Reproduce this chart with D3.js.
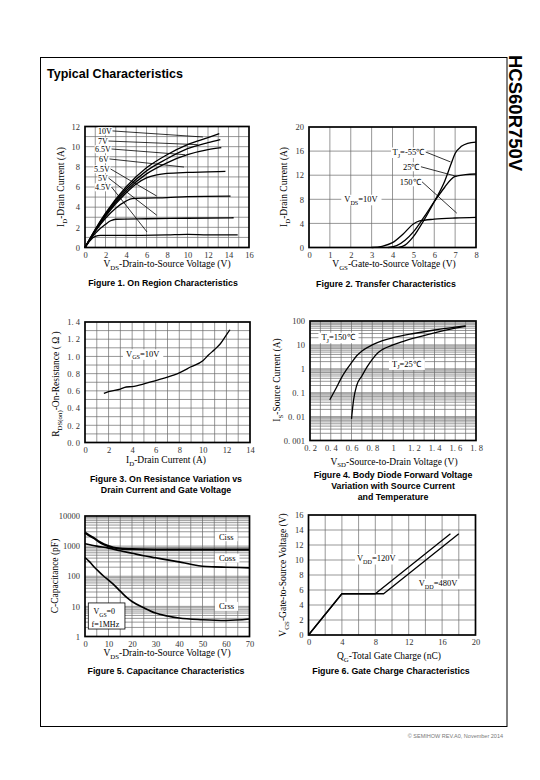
<!DOCTYPE html>
<html><head><meta charset="utf-8">
<script src="https://cdn.jsdelivr.net/npm/d3@7"></script>
<style>body{margin:0;background:#fff}</style>
</head><body>
<svg id="c" width="540" height="780"></svg>
<script>
// ---------------- DATA ----------------
// Figure 1: On region characteristics (VDS, ID)
const f1_xTicks = [0,2,4,6,8,10,12,14,16];
const f1_yTicks = [0,2,4,6,8,10,12];
const f1_10V  = [[0,0],[1,1.8],[2,3.4],[4,6.0],[6,7.9],[8,9.2],[10,10.2],[12,10.9],[13.1,11.3]];
const f1_7V   = [[0,0],[1,1.75],[2,3.3],[4,5.8],[6,7.6],[8,8.8],[10,9.8],[12,10.4],[13.2,10.7]];
const f1_6p5V = [[0,0],[1,1.7],[2,3.2],[4,5.6],[6,7.3],[8,8.4],[10,9.2],[12,9.7],[13.3,9.9]];
const f1_6V   = [[0,0],[1,1.65],[2,3.1],[4,5.4],[5,6.3],[6,6.9],[7,7.2],[8,7.35],[10,7.45],[12,7.5],[13.7,7.55]];
const f1_5p5V = [[0,0],[1,1.6],[2,2.9],[3,3.9],[4,4.6],[4.6,4.85],[6,4.9],[8,4.95],[10,5.05],[14.2,5.1]];
const f1_5V   = [[0,0],[1,1.4],[2,2.3],[2.5,2.65],[3,2.8],[6,2.85],[10,2.9],[14.5,2.95]];
const f1_4p5V = [[0,0],[0.5,0.7],[1,1.1],[1.5,1.2],[3,1.2],[8,1.25],[10,1.3],[12,1.25],[14.9,1.25]];
const f1_labels = ["10V","7V","6.5V","6V","5.5V","5V","4.5V"];

// Figure 2: Transfer characteristics (VGS, ID)
const f2_xTicks = [0,1,2,3,4,5,6,7,8];
const f2_yTicks = [0,4,8,12,16,20];
const f2_m55 = [[4.3,0],[4.6,0.4],[5,1.8],[5.5,4.5],[6,7.6],[6.5,11.0],[6.8,13.8],[7,15.6],[7.3,16.8],[7.6,17.3],[8,17.5]];
const f2_25  = [[3.8,0],[4.2,0.3],[4.6,1.2],[5,2.6],[5.5,5.0],[6,7.6],[6.5,10.0],[6.8,11.3],[7,11.8],[7.5,12.1],[8,12.2]];
const f2_150 = [[3.0,0],[3.5,0.2],[4,0.8],[4.5,2.2],[5,3.9],[5.3,4.4],[6,4.7],[7,4.9],[8,5.0]];

// Figure 3: On resistance vs drain current (ID, RDS(on))
const f3_xTicks = [0,2,4,6,8,10,12,14];
const f3_yTicks = [0,0.2,0.4,0.6,0.8,1.0,1.2,1.4];
const f3_yLabels = ["0. 0","0. 2","0. 4","0. 6","0. 8","1. 0","1. 2","1. 4"];
const f3_rds = [[1.6,0.57],[2,0.59],[3,0.62],[3.5,0.645],[4,0.65],[5,0.68],[6,0.72],[7,0.76],[8,0.81],[9,0.88],[10,0.95],[10.5,1.02],[11,1.08],[11.5,1.15],[12,1.25],[12.3,1.31]];

// Figure 4: Body diode forward voltage (VSD, IS)
const f4_xTicks = [0.2,0.4,0.6,0.8,1.0,1.2,1.4,1.6,1.8];
const f4_xLabels = ["0. 2","0. 4","0. 6","0. 8","1","1. 2","1. 4","1. 6","1. 8"];
const f4_yTicks = [0.001,0.01,0.1,1,10,100];
const f4_yLabels = ["0. 001","0. 01","0. 1","1","10","100"];
const f4_150 = [[0.39,0.05],[0.45,0.15],[0.5,0.4],[0.55,0.9],[0.6,1.8],[0.65,3.5],[0.7,5.5],[0.8,10],[0.9,15],[1.0,20],[1.2,30],[1.4,42],[1.6,55],[1.7,63]];
const f4_25  = [[0.6,0.008],[0.62,0.05],[0.65,0.2],[0.7,0.5],[0.75,1.2],[0.8,2.5],[0.85,4.5],[0.9,6.5],[1.0,10],[1.1,14],[1.2,19],[1.4,32],[1.6,50],[1.7,60]];

// Figure 5: Capacitance (VDS, C)
const f5_xTicks = [0,10,20,30,40,50,60,70];
const f5_yTicks = [1,10,100,1000,10000];
const f5_ciss = [[0,2800],[2,2200],[4,1800],[6,1400],[8,1150],[10,1000],[12,900],[15,830],[20,790],[30,770],[50,760],[70,760]];
const f5_coss = [[0,1200],[5,1000],[10,860],[15,700],[20,580],[25,480],[30,410],[35,350],[40,300],[45,250],[50,215],[55,205],[60,200],[70,190]];
const f5_crss = [[0,420],[2,300],[4,200],[6,140],[8,100],[10,75],[12,55],[15,32],[18,19],[20,14.5],[25,9],[30,6],[35,4.8],[40,4.1],[50,3.6],[60,3.4],[70,3.8]];

// Figure 6: Gate charge (QG, VGS)
const f6_xTicks = [0,4,8,12,16,20];
const f6_yTicks = [0,2,4,6,8,10,12,14,16];
const f6_120 = [[0,0],[4,5.5],[8,5.5],[17,13.5]];
const f6_480 = [[0,0],[4,5.5],[9,5.5],[18,13.5]];

// ---------------- DRAWING ----------------
const SERIF = "'Liberation Serif','Times New Roman',serif";
const SANS = "'Liberation Sans',Arial,sans-serif";
const svg = d3.select('#c');

function rich(t, str, size) {
  const parts = str.split(/(_\{[^}]*\})/);
  let sub = false;
  parts.forEach(p => {
    if (!p) return;
    if (p.startsWith('_{')) {
      t.append('tspan').attr('font-size', size*0.72).attr('dy', size*0.3).text(p.slice(2,-1));
      sub = true;
    } else {
      const s = t.append('tspan').text(p);
      if (sub) { s.attr('dy', -size*0.3); sub = false; }
    }
  });
  return t;
}

function panel(o) {
  const g = svg.append('g');
  const sx = d3.scaleLinear().domain(o.xDom).range([o.L, o.R]);
  const sy = (o.yLog ? d3.scaleLog() : d3.scaleLinear()).domain(o.yDom).range([o.B, o.T]);
  g.selectAll(null).data(o.xGrid).join('line')
    .attr('x1', d => sx(d)).attr('x2', d => sx(d)).attr('y1', o.T).attr('y2', o.B)
    .attr('stroke', '#6a6a6a').attr('stroke-width', 0.7);
  g.selectAll(null).data(o.yGrid).join('line')
    .attr('y1', d => sy(d)).attr('y2', d => sy(d)).attr('x1', o.L).attr('x2', o.R)
    .attr('stroke', '#6a6a6a').attr('stroke-width', 0.7);
  const xa = d3.axisBottom(sx).tickValues(o.xTicks).tickSize(0).tickPadding(4)
    .tickFormat((d,i) => o.xLabels ? o.xLabels[i] : d3.format('')(d));
  const ya = d3.axisLeft(sy).tickValues(o.yTicks).tickSize(0).tickPadding(5)
    .tickFormat((d,i) => o.yLabels ? o.yLabels[i] : d3.format('')(d));
  const gx = g.append('g').attr('transform', `translate(0,${o.B})`).call(xa);
  const gy = g.append('g').attr('transform', `translate(${o.L},0)`).call(ya);
  [gx, gy].forEach(a => {
    a.select('.domain').remove();
    a.attr('font-family', SERIF).attr('font-size', 8.5);
    a.selectAll('text').attr('fill', '#333');
  });
  const line = d3.line().x(d => sx(d[0])).y(d => sy(d[1])).curve(o.curve || d3.curveMonotoneX);
  o.series.forEach(s => {
    g.append('path').attr('d', line(s.data)).attr('fill', 'none')
      .attr('stroke', '#000').attr('stroke-width', s.w || 1.3).attr('stroke-linejoin', 'round');
  });
  g.append('rect').attr('x', o.L).attr('y', o.T).attr('width', o.R - o.L).attr('height', o.B - o.T)
    .attr('fill', 'none').attr('stroke', '#000').attr('stroke-width', 1.7);
  rich(g.append('text').attr('x', o.xtX).attr('y', o.xtY).attr('text-anchor', 'middle')
    .attr('font-family', SERIF).attr('font-size', 9.5), o.xTitle, 9.5);
  rich(g.append('text').attr('transform', `translate(${o.ytX},${o.ytY}) rotate(-90)`).attr('text-anchor', 'middle')
    .attr('font-family', SERIF).attr('font-size', 9.5), o.yTitle, 9.5);
  o.caption.forEach((c, i) => {
    g.append('text').attr('x', o.capX).attr('y', o.capY + i*11).attr('text-anchor', 'middle')
      .attr('font-family', SANS).attr('font-weight', 'bold').attr('font-size', 8.8).text(c);
  });
  return {g, sx, sy};
}

function label(p, str, x, y, opt = {}) {
  const {g, sx, sy} = p;
  const size = opt.size || 8.5;
  const t = g.append('text').attr('x', sx(x)).attr('y', sy(y)).attr('dy', '0.35em')
    .attr('text-anchor', opt.anchor || 'start').attr('font-family', SERIF).attr('font-size', size);
  rich(t, str, size);
  const bb = t.node().getBBox();
  if (opt.bg !== false) {
    const pad = opt.pad == null ? 1.5 : opt.pad;
    g.insert('rect', () => t.node()).attr('x', bb.x - pad).attr('y', bb.y + 0.5)
      .attr('width', bb.width + 2*pad).attr('height', bb.height - 1).attr('fill', '#fff');
  }
  if (opt.to) {
    g.append('line').attr('x1', bb.x + bb.width + 0.5).attr('y1', sy(y))
      .attr('x2', sx(opt.to[0])).attr('y2', sy(opt.to[1]))
      .attr('stroke', '#000').attr('stroke-width', 0.8);
  }
  return bb;
}

// Page frame and headings
svg.append('rect').attr('x', 40.5).attr('y', 57.5).attr('width', 466.5).attr('height', 669)
  .attr('fill', 'none').attr('stroke', '#000').attr('stroke-width', 1);
svg.append('text').attr('x', 47).attr('y', 78).attr('font-family', SANS).attr('font-weight', 'bold')
  .attr('font-size', 12.5).text('Typical Characteristics');
svg.append('text').attr('transform', 'translate(509,55) rotate(90)').attr('font-family', SANS)
  .attr('font-weight', 'bold').attr('font-size', 18.5).text('HCS60R750V');
svg.append('text').attr('x', 503).attr('y', 738).attr('text-anchor', 'end').attr('font-family', SANS)
  .attr('font-size', 5.5).attr('fill', '#777').text('© SEMIHOW REV.A0, November 2014');

// Figure 1
const p1 = panel({L:85, R:249, T:126.5, B:247.5, xDom:[0,16], yDom:[0,12],
  xGrid:d3.range(1,16), yGrid:d3.range(1,12), xTicks:f1_xTicks, yTicks:f1_yTicks,
  series:[{data:f1_10V},{data:f1_7V},{data:f1_6p5V},{data:f1_6V},{data:f1_5p5V},{data:f1_5V},{data:f1_4p5V}],
  xTitle:'V_{DS}-Drain-to-Source Voltage (V)', xtX:167, xtY:267,
  yTitle:'I_{D}-Drain Current (A)', ytX:64, ytY:187,
  caption:['Figure 1. On Region Characteristics'], capX:163, capY:286});
const f1_pos = [[1.27,11.56,11.5,10.96],[1.27,10.56,11.0,10.2],[0.98,9.77,9.76,9.2],[1.37,8.78,9.66,7.98],
                [0.88,7.79,7.0,5.1],[1.27,6.89,7.0,3.2],[0.98,6.0,6.05,1.54]];
f1_labels.forEach((s, i) => label(p1, s, f1_pos[i][0], f1_pos[i][1], {to:[f1_pos[i][2], f1_pos[i][3]], pad:0.5, size:8}));

// Figure 2
const p2 = panel({L:309, R:476, T:127, B:247.5, xDom:[0,8], yDom:[0,20],
  xGrid:d3.range(1,8), yGrid:d3.range(4,20,4), xTicks:f2_xTicks, yTicks:f2_yTicks,
  series:[{data:f2_m55},{data:f2_25},{data:f2_150}],
  xTitle:'V_{GS}-Gate-to-Source Voltage (V)', xtX:394, xtY:267,
  yTitle:'I_{D}-Drain Current (A)', ytX:287, ytY:187,
  caption:['Figure 2. Transfer Characteristics'], capX:386, capY:287});
label(p2, 'T_{J}=-55℃', 4.0, 15.85, {to:[6.78,14.2]});
label(p2, '25℃', 4.5, 13.4, {to:[7.08,11.8]});
label(p2, '150℃', 4.35, 10.9, {to:[7.08,5.7]});
label(p2, 'V_{DS}=10V', 2.49, 8, {anchor:'middle', pad:3});

// Figure 3
const p3 = panel({L:85, R:250, T:322, B:442.5, xDom:[0,14], yDom:[0,1.4],
  xGrid:d3.range(1,14), yGrid:d3.range(1,14).map(d => d/10), xTicks:f3_xTicks, yTicks:f3_yTicks, yLabels:f3_yLabels,
  series:[{data:f3_rds}],
  xTitle:'I_{D}-Drain Current (A)', xtX:166, xtY:463,
  yTitle:'R_{DS(on)}-On-Resistance ( Ω )', ytX:59, ytY:384,
  caption:['Figure 3. On Resistance Variation vs','Drain Current and Gate Voltage'], capX:166, capY:482});
label(p3, 'V_{GS}=10V', 3.48, 1.03, {pad:3});

// Figure 4
const logGrid = (a, b) => { const r = []; for (let e = a; e < b; e++) for (let k = 1; k <= 9; k++) r.push(k * Math.pow(10, e)); return r.filter(v => v > Math.pow(10,a)); };
const p4 = panel({L:310, R:476, T:321, B:440.5, xDom:[0.2,1.8], yDom:[0.001,100], yLog:true,
  xGrid:d3.range(3,18).map(d => d/10), yGrid:logGrid(-3,2), xTicks:f4_xTicks, xLabels:f4_xLabels, yTicks:f4_yTicks, yLabels:f4_yLabels,
  series:[{data:f4_150},{data:f4_25}],
  xTitle:'V_{SD}-Source-to-Drain Voltage (V)', xtX:394, xtY:464.5,
  yTitle:'I_{S}-Source Current (A)', ytX:280, ytY:380,
  caption:['Figure 4. Body Diode Forward Voltage','Variation with Source Current','and Temperature'], capX:393, capY:477.5});
label(p4, 'T_{J}=150℃', 0.31, 21, {pad:3});
label(p4, 'T_{J}=25℃', 0.99, 1.6, {pad:3});

// Figure 5
const p5 = panel({L:85, R:249.5, T:516, B:636.5, xDom:[0,70], yDom:[1,10000], yLog:true,
  xGrid:d3.range(5,70,5), yGrid:logGrid(0,4), xTicks:f5_xTicks, yTicks:f5_yTicks,
  series:[{data:f5_ciss, w:2.2},{data:f5_coss, w:1.6},{data:f5_crss, w:1.6}],
  xTitle:'V_{DS}-Drain-to-Source Voltage (V)', xtX:167, xtY:656,
  yTitle:'C-Capacitance (pF)', ytX:58, ytY:576,
  caption:['Figure 5. Capacitance Characteristics'], capX:166, capY:674});
label(p5, 'Ciss', 57, 2050, {pad:4});
label(p5, 'Coss', 57, 400, {pad:4});
label(p5, 'Crss', 57, 10, {pad:4});
{
  const {g, sx, sy} = p5;
  g.append('rect').attr('x', sx(1.4)).attr('y', sy(13)).attr('width', sx(17) - sx(1.4)).attr('height', sy(1.77) - sy(13))
    .attr('fill', '#fff').attr('stroke', '#000').attr('stroke-width', 0.8);
  label(p5, 'V_{GS}=0', 3.6, 6.8, {bg:false, size:8});
  label(p5, 'f=1MHz', 2.8, 2.6, {bg:false, size:8});
}

// Figure 6
const p6 = panel({L:308.5, R:475.5, T:515, B:635, xDom:[0,20], yDom:[0,16],
  xGrid:d3.range(2,20,2), yGrid:d3.range(2,16,2), xTicks:f6_xTicks, yTicks:f6_yTicks,
  series:[{data:f6_120},{data:f6_480}], curve:d3.curveLinear,
  xTitle:'Q_{G}-Total Gate Charge (nC)', xtX:389, xtY:659,
  yTitle:'V_{GS}-Gate-to-Source Voltage (V)', ytX:286, ytY:575,
  caption:['Figure 6. Gate Charge Characteristics'], capX:391, capY:674});
label(p6, 'V_{DD}=120V', 5.8, 10.2, {pad:2});
label(p6, 'V_{DD}=480V', 13.2, 6.9, {pad:2});
</script>
</body></html>
